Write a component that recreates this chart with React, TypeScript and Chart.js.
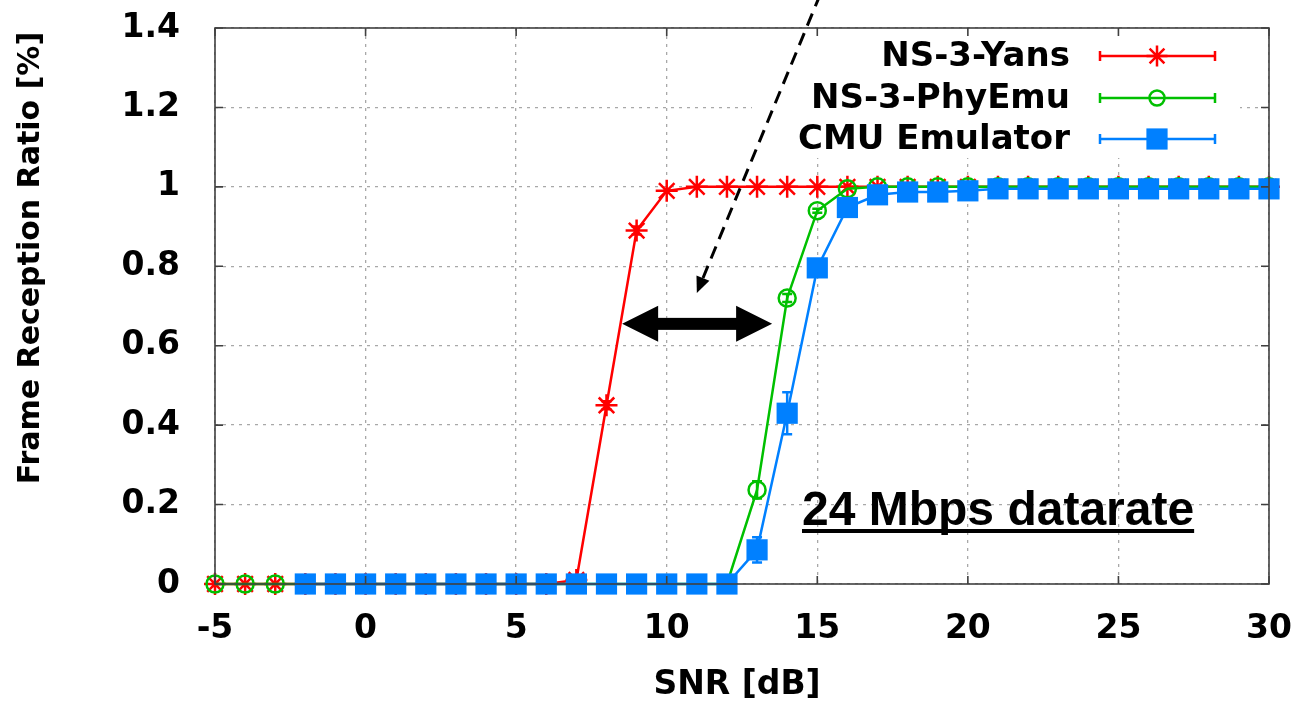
import React, { useEffect, useRef } from "react";
import { Chart, registerables } from "chart.js";

Chart.register(...registerables);

// ---------------- DATA ----------------
const snrYans = [-5, -4, -3, -2, -1, 0, 1, 2, 3, 4, 5, 6, 7, 8, 9, 10, 11, 12, 13, 14, 15, 16, 17, 18, 19, 20, 21, 22, 23, 24, 25, 26, 27, 28, 29, 30];
const frrYans = [0, 0, 0, 0, 0, 0, 0, 0, 0, 0, 0, 0, 0.01, 0.45, 0.89, 0.99, 1, 1, 1, 1, 1, 1, 1, 1, 1, 1, 1, 1, 1, 1, 1, 1, 1, 1, 1, 1];
const errYans = [0, 0, 0, 0, 0, 0, 0, 0, 0, 0, 0, 0, 0, 0.01, 0.01, 0, 0, 0, 0, 0, 0, 0, 0, 0, 0, 0, 0, 0, 0, 0, 0, 0, 0, 0, 0, 0];

const snrPhyEmu = [-5, -4, -3, -2, -1, 0, 1, 2, 3, 4, 5, 6, 7, 8, 9, 10, 11, 12, 13, 14, 15, 16, 17, 18, 19, 20, 21, 22, 23, 24, 25, 26, 27, 28, 29, 30];
const frrPhyEmu = [0, 0, 0, 0, 0, 0, 0, 0, 0, 0, 0, 0, 0, 0, 0, 0, 0, 0, 0.237, 0.72, 0.94, 0.995, 1, 1, 1, 1, 1, 1, 1, 1, 1, 1, 1, 1, 1, 1];
const errPhyEmu = [0, 0, 0, 0, 0, 0, 0, 0, 0, 0, 0, 0, 0, 0, 0, 0, 0, 0, 0.022, 0.01, 0.005, 0, 0, 0, 0, 0, 0, 0, 0, 0, 0, 0, 0, 0, 0, 0];

const snrCmu = [-2, -1, 0, 1, 2, 3, 4, 5, 6, 7, 8, 9, 10, 11, 12, 13, 14, 15, 16, 17, 18, 19, 20, 21, 22, 23, 24, 25, 26, 27, 28, 29, 30];
const frrCmu = [0, 0, 0, 0, 0, 0, 0, 0, 0, 0, 0, 0, 0, 0, 0, 0.086, 0.43, 0.796, 0.948, 0.98, 0.987, 0.987, 0.99, 0.995, 0.995, 0.995, 0.995, 0.995, 0.995, 0.995, 0.995, 0.995, 0.995];
const errCmu = [0, 0, 0, 0, 0, 0, 0, 0, 0, 0, 0, 0, 0, 0, 0, 0.032, 0.053, 0.01, 0.005, 0, 0, 0, 0, 0, 0, 0, 0, 0, 0, 0, 0, 0, 0];

const seriesNames = ["NS-3-Yans", "NS-3-PhyEmu", "CMU Emulator"];

const xTickValues = [-5, 0, 5, 10, 15, 20, 25, 30];
const xTickLabels = ["-5", "0", "5", "10", "15", "20", "25", "30"];
const yTickValues = [0, 0.2, 0.4, 0.6, 0.8, 1, 1.2, 1.4];
const yTickLabels = ["0", "0.2", "0.4", "0.6", "0.8", "1", "1.2", "1.4"];

const xTitle = "SNR [dB]";
const yTitle = "Frame Reception Ratio [%]";
const noteText = "24 Mbps datarate";

// annotation anchors in data units
const gapArrowFrom = [8.52, 0.655];
const gapArrowTo = [13.5, 0.655];
const pointerFrom = [15.1, 1.485];
const pointerTo = [11.0, 0.733];

// ---------------- STYLE ----------------
const RED = "#ff0000";
const GREEN = "#00c000";
const BLUE = "#0080ff";
const FONT = "'DejaVu Sans', sans-serif";

function toPoints(xs: number[], ys: number[]) {
  return xs.map((x, i) => ({ x, y: ys[i] }));
}

function drawMarker(ctx: CanvasRenderingContext2D, kind: string, x: number, y: number, color: string) {
  ctx.save();
  ctx.strokeStyle = color;
  ctx.fillStyle = color;
  if (kind === "star") {
    const r = 10.5;
    ctx.lineWidth = 2.5;
    ctx.beginPath();
    ctx.moveTo(x - r, y); ctx.lineTo(x + r, y);
    ctx.moveTo(x, y - r); ctx.lineTo(x, y + r);
    const d = r * Math.SQRT1_2;
    ctx.moveTo(x - d, y - d); ctx.lineTo(x + d, y + d);
    ctx.moveTo(x - d, y + d); ctx.lineTo(x + d, y - d);
    ctx.stroke();
  } else if (kind === "circle") {
    ctx.lineWidth = 2.5;
    ctx.beginPath();
    ctx.arc(x, y, 7.5, 0, Math.PI * 2);
    ctx.stroke();
  } else {
    const s = 15 * Math.SQRT1_2;
    ctx.fillRect(x - s, y - s, 2 * s, 2 * s);
  }
  ctx.restore();
}

const decorPlugin = {
  id: "decor",
  beforeDatasetsDraw(chart: any) {
    const { ctx, chartArea: ca } = chart;
    // opaque legend box
    ctx.save();
    ctx.fillStyle = "#ffffff";
    ctx.fillRect(752, ca.top + 1, 1240 - 752, 158 - ca.top - 1);
    ctx.restore();

    // legend entries
    const rows = [56, 98, 139];
    const kinds = ["star", "circle", "rect"];
    const colors = [RED, GREEN, BLUE];
    ctx.save();
    ctx.font = `bold 34px ${FONT}`;
    ctx.textAlign = "right";
    ctx.textBaseline = "middle";
    ctx.fillStyle = "#000";
    seriesNames.forEach((name, i) => {
      const y = rows[i];
      ctx.fillText(name, 1070, y + 1);
      ctx.strokeStyle = colors[i];
      ctx.lineWidth = 2.5;
      ctx.beginPath();
      ctx.moveTo(1100, y); ctx.lineTo(1215, y);
      ctx.moveTo(1100, y - 5); ctx.lineTo(1100, y + 5);
      ctx.moveTo(1215, y - 5); ctx.lineTo(1215, y + 5);
      ctx.stroke();
      drawMarker(ctx, kinds[i], 1157, y, colors[i]);
    });
    ctx.restore();
  },
  afterDatasetsDraw(chart: any) {
    const { ctx, chartArea: ca, scales } = chart;
    const xs = scales.x, ys = scales.y;

    // error bars
    chart.data.datasets.forEach((ds: any) => {
      const errs: number[] = ds.errorBars || [];
      ctx.save();
      ctx.strokeStyle = ds.borderColor;
      ctx.lineWidth = 2.5;
      ds.data.forEach((p: any, i: number) => {
        const e = errs[i];
        if (!e) return;
        const px = xs.getPixelForValue(p.x);
        const y1 = ys.getPixelForValue(p.y - e);
        const y2 = ys.getPixelForValue(p.y + e);
        ctx.beginPath();
        ctx.moveTo(px, y1); ctx.lineTo(px, y2);
        ctx.moveTo(px - 5, y1); ctx.lineTo(px + 5, y1);
        ctx.moveTo(px - 5, y2); ctx.lineTo(px + 5, y2);
        ctx.stroke();
      });
      ctx.restore();
    });

    // border + inward ticks
    ctx.save();
    ctx.strokeStyle = "#404040";
    ctx.lineWidth = 1.6;
    ctx.strokeRect(ca.left, ca.top, ca.right - ca.left, ca.bottom - ca.top);
    ctx.beginPath();
    xTickValues.forEach((v) => {
      const px = xs.getPixelForValue(v);
      ctx.moveTo(px, ca.bottom); ctx.lineTo(px, ca.bottom - 8);
      ctx.moveTo(px, ca.top); ctx.lineTo(px, ca.top + 8);
    });
    yTickValues.forEach((v) => {
      const py = ys.getPixelForValue(v);
      ctx.moveTo(ca.left, py); ctx.lineTo(ca.left + 8, py);
      ctx.moveTo(ca.right, py); ctx.lineTo(ca.right - 8, py);
    });
    ctx.stroke();
    ctx.restore();
  },
  afterDraw(chart: any) {
    const { ctx, chartArea: ca, scales } = chart;
    const xs = scales.x, ys = scales.y;

    // axis titles
    ctx.save();
    ctx.fillStyle = "#000";
    ctx.font = `bold 33px ${FONT}`;
    ctx.textAlign = "center";
    ctx.textBaseline = "middle";
    ctx.fillText(xTitle, (ca.left + ca.right) / 2 - 5, 685);
    ctx.translate(31, 258);
    ctx.rotate(-Math.PI / 2);
    ctx.font = `bold 30px ${FONT}`;
    ctx.fillText(yTitle, 0, 0);
    ctx.restore();

    // note text with underline
    ctx.save();
    ctx.font = "bold 48px 'Liberation Sans', Arial, sans-serif";
    ctx.fillStyle = "#000";
    ctx.textAlign = "left";
    ctx.textBaseline = "alphabetic";
    const tx = 802, ty = 525;
    ctx.fillText(noteText, tx, ty);
    const w = ctx.measureText(noteText).width;
    ctx.fillRect(tx, ty + 4, w, 4);
    ctx.restore();

    // double-headed gap arrow
    const ax1 = xs.getPixelForValue(gapArrowFrom[0]);
    const ax2 = xs.getPixelForValue(gapArrowTo[0]);
    const ay = ys.getPixelForValue(gapArrowFrom[1]);
    ctx.save();
    ctx.fillStyle = "#000";
    ctx.fillRect(ax1 + 30, ay - 6, ax2 - ax1 - 60, 12);
    ctx.beginPath();
    ctx.moveTo(ax1, ay); ctx.lineTo(ax1 + 36, ay - 18); ctx.lineTo(ax1 + 36, ay + 18); ctx.closePath();
    ctx.moveTo(ax2, ay); ctx.lineTo(ax2 - 36, ay - 18); ctx.lineTo(ax2 - 36, ay + 18); ctx.closePath();
    ctx.fill();
    ctx.restore();

    // dashed pointer arrow
    const px1 = xs.getPixelForValue(pointerFrom[0]);
    const py1 = ys.getPixelForValue(pointerFrom[1]);
    const px2 = xs.getPixelForValue(pointerTo[0]);
    const py2 = ys.getPixelForValue(pointerTo[1]);
    const ang = Math.atan2(py2 - py1, px2 - px1);
    const hl = 16, hw = 7;
    const bx = px2 - hl * Math.cos(ang), by = py2 - hl * Math.sin(ang);
    ctx.save();
    ctx.strokeStyle = "#000";
    ctx.lineWidth = 3;
    ctx.setLineDash([13, 8]);
    ctx.beginPath();
    ctx.moveTo(px1, py1); ctx.lineTo(bx, by);
    ctx.stroke();
    ctx.setLineDash([]);
    ctx.fillStyle = "#000";
    ctx.beginPath();
    ctx.moveTo(px2, py2);
    ctx.lineTo(bx + hw * Math.sin(ang), by - hw * Math.cos(ang));
    ctx.lineTo(bx - hw * Math.sin(ang), by + hw * Math.cos(ang));
    ctx.closePath();
    ctx.fill();
    ctx.restore();
  },
};

function zeroPad(scale: any) {
  scale.paddingTop = 0;
  scale.paddingBottom = 0;
  scale.paddingLeft = 0;
  scale.paddingRight = 0;
}

export default function App() {
  const canvasRef = useRef<HTMLCanvasElement | null>(null);

  useEffect(() => {
    if (!canvasRef.current) return;
    const chart = new Chart(canvasRef.current, {
      type: "line",
      data: {
        datasets: [
          {
            label: seriesNames[0],
            data: toPoints(snrYans, frrYans),
            errorBars: errYans,
            borderColor: RED,
            backgroundColor: RED,
            borderWidth: 2.5,
            pointStyle: "star",
            pointRadius: 11,
            pointBorderWidth: 2.5,
            pointBorderColor: RED,
            tension: 0,
            clip: false,
            order: 3,
          } as any,
          {
            label: seriesNames[1],
            data: toPoints(snrPhyEmu, frrPhyEmu),
            errorBars: errPhyEmu,
            borderColor: GREEN,
            backgroundColor: "rgba(0,0,0,0)",
            borderWidth: 2.5,
            pointStyle: "circle",
            pointRadius: 8.5,
            pointBorderWidth: 2.5,
            pointBorderColor: GREEN,
            pointBackgroundColor: "rgba(0,0,0,0)",
            tension: 0,
            clip: false,
            order: 2,
          } as any,
          {
            label: seriesNames[2],
            data: toPoints(snrCmu, frrCmu),
            errorBars: errCmu,
            borderColor: BLUE,
            backgroundColor: BLUE,
            borderWidth: 2.5,
            pointStyle: "rect",
            pointRadius: 15,
            pointBorderWidth: 0,
            pointBackgroundColor: BLUE,
            tension: 0,
            clip: false,
            order: 1,
          } as any,
        ],
      },
      options: {
        animation: false,
        responsive: true,
        maintainAspectRatio: false,
        layout: { padding: { top: 28, right: 26, left: 0, bottom: 0 } },
        plugins: {
          legend: { display: false },
          tooltip: { enabled: false },
        },
        events: [],
        scales: {
          x: {
            type: "linear",
            min: -5,
            max: 30,
            afterBuildTicks: (scale: any) => {
              scale.ticks = xTickValues.map((v) => ({ value: v }));
            },
            afterFit: (scale: any) => {
              scale.height = 120;
              zeroPad(scale);
            },
            ticks: {
              autoSkip: false,
              maxRotation: 0,
              padding: 26,
              color: "#000",
              font: { family: FONT, size: 33, weight: "bold" },
              callback: (_v: any, i: number) => xTickLabels[i],
            },
            grid: { color: "#a8a8a8", lineWidth: 1.3, drawTicks: false },
            border: { display: false, dash: [3, 5] },
          },
          y: {
            type: "linear",
            min: 0,
            max: 1.4,
            afterBuildTicks: (scale: any) => {
              scale.ticks = yTickValues.map((v) => ({ value: v }));
            },
            afterFit: (scale: any) => {
              scale.width = 215;
              zeroPad(scale);
            },
            ticks: {
              autoSkip: false,
              padding: 35,
              color: "#000",
              font: { family: FONT, size: 33, weight: "bold" },
              callback: (_v: any, i: number) => yTickLabels[i],
            },
            grid: { color: "#a8a8a8", lineWidth: 1.3, drawTicks: false },
            border: { display: false, dash: [3, 5] },
          },
        },
      } as any,
      plugins: [decorPlugin],
    });
    return () => chart.destroy();
  }, []);

  return (
    <div style={{ position: "fixed", left: 0, top: 0, width: 1295, height: 704, background: "#fff" }}>
      <canvas ref={canvasRef} />
    </div>
  );
}
